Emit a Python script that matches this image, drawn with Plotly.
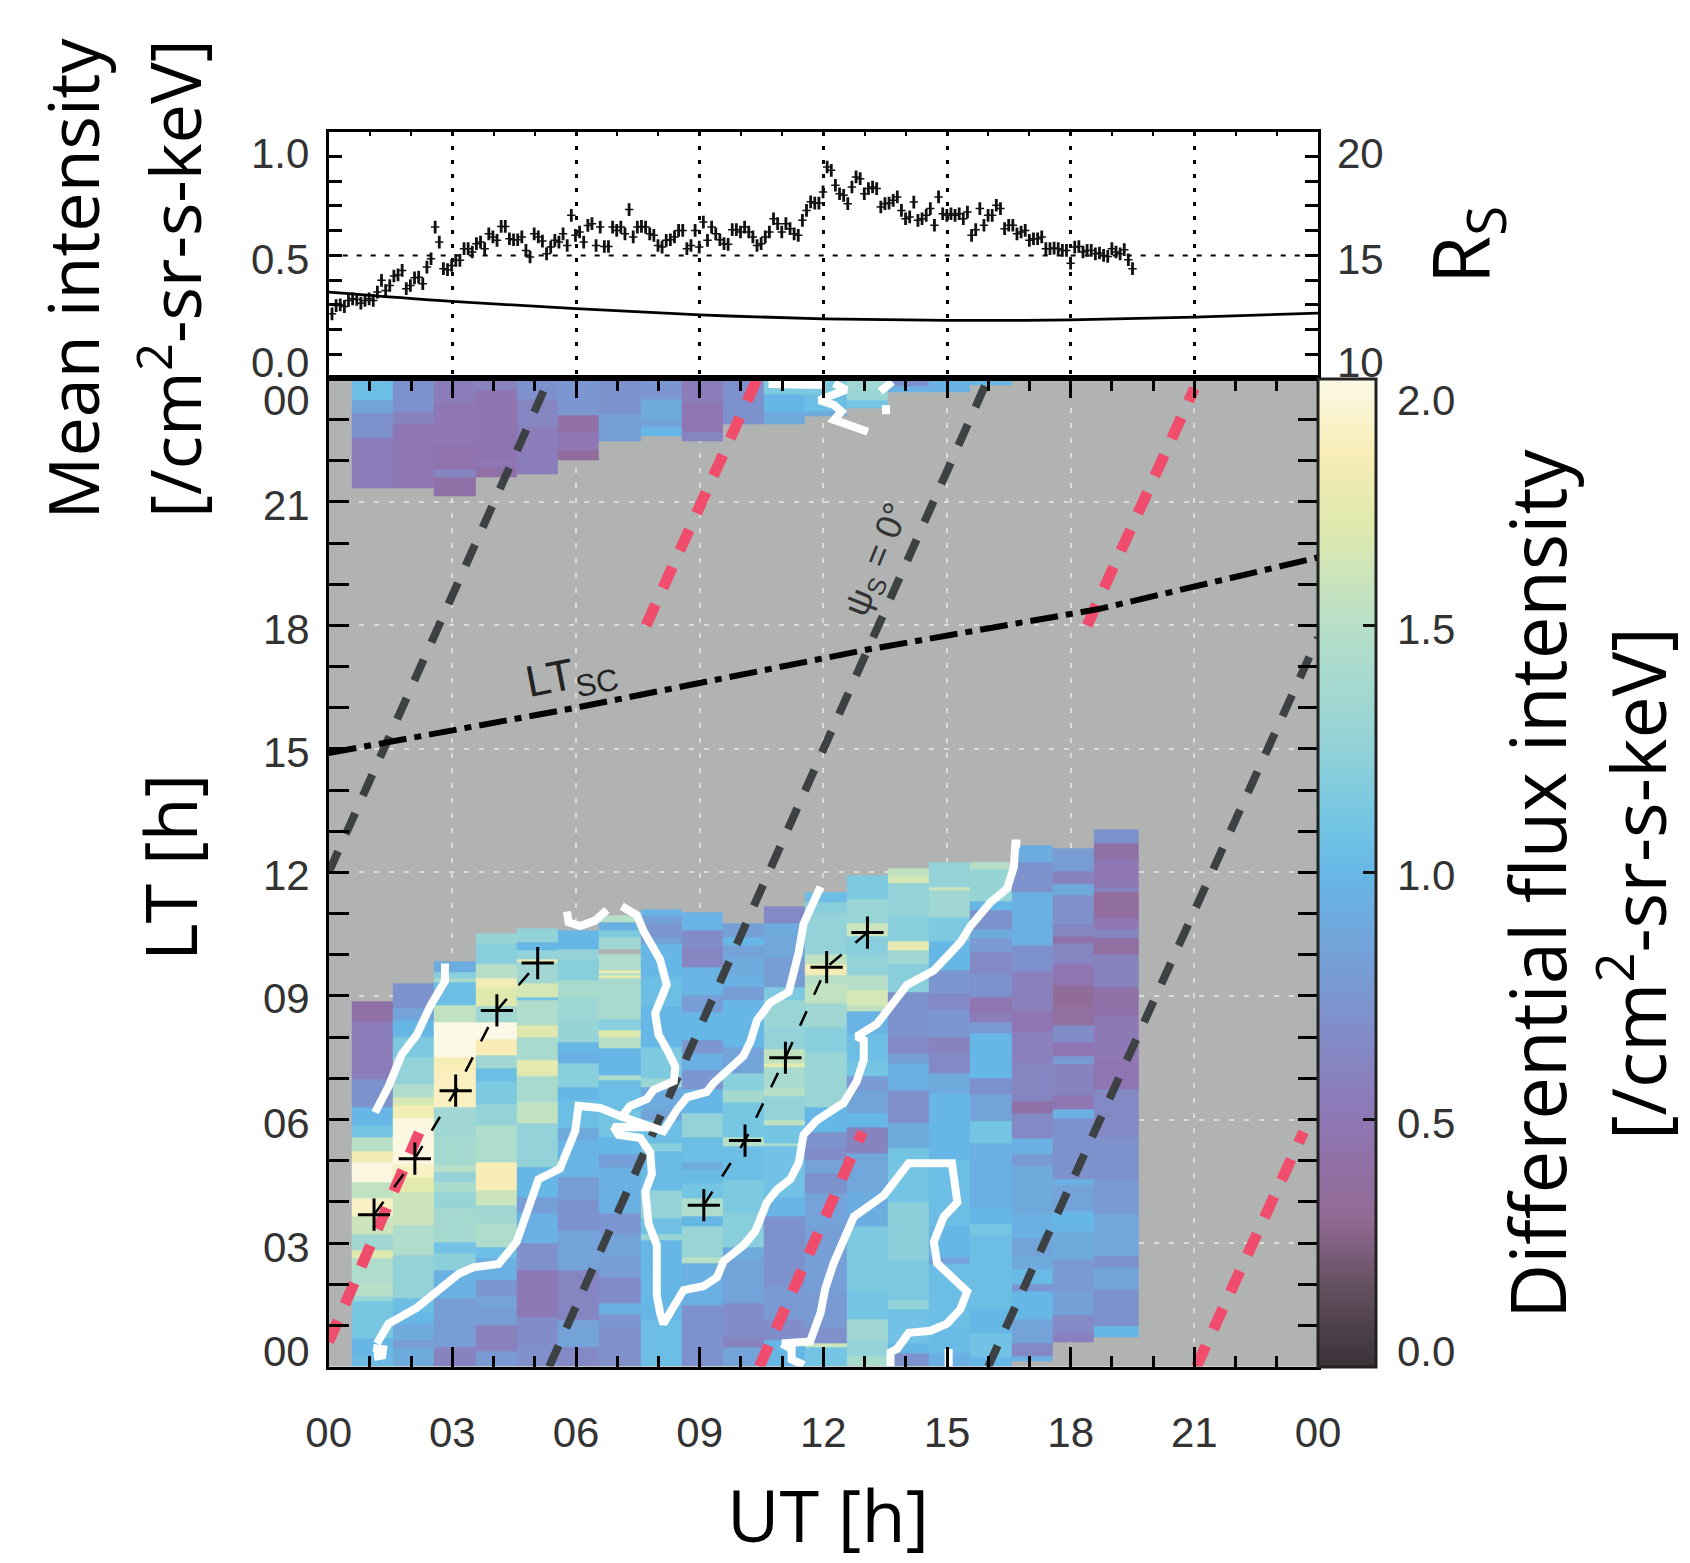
import numpy as np
import plotly.graph_objects as go

W, H = 1690, 1563
L, R, T, M, B = 328.7, 1318.0, 131.5, 378.3, 1366.6

# ---- top panel data ----
intensity = [
 .205,.247,.25,.242,.273,.281,.278,.259,.273,.281,.273,.315,.374,.323,.348,.396,.402,.424,.332,.348,
 .387,.39,.357,.441,.483,.643,.567,.433,.428,.449,.475,.475,.534,.534,.517,.559,.567,.534,.609,.593,
 .576,.646,.646,.584,.579,.579,.593,.525,.492,.609,.593,.572,.508,.542,.576,.567,.609,.55,.702,.601,
 .618,.567,.651,.66,.55,.643,.545,.545,.643,.626,.643,.609,.731,.593,.643,.646,.643,.609,.601,.55,
 .542,.576,.579,.593,.626,.626,.534,.55,.626,.542,.668,.576,.643,.609,.579,.559,.556,.63,.63,.618,
 .643,.618,.593,.55,.559,.593,.618,.685,.66,.618,.66,.635,.609,.601,.677,.727,.77,.764,.764,.82,
 .946,.929,.854,.811,.803,.761,.845,.896,.887,.811,.837,.845,.837,.744,.761,.764,.778,.795,.727,.685,
 .694,.769,.677,.685,.702,.736,.652,.795,.71,.702,.71,.702,.71,.685,.719,.601,.63,.736,.652,.702,
 .702,.753,.736,.635,.652,.652,.609,.618,.626,.576,.584,.584,.593,.534,.534,.537,.534,.525,.525,.461,
 .542,.545,.517,.525,.525,.508,.512,.5,.495,.534,.517,.508,.529,.478,.433]
intensity_first_ut, intensity_last_ut = 0.08, 19.5
intensity_err = 0.032
rs_ut = [0, 3, 6, 9, 12, 15, 18, 21, 24]
rs_val = [13.15, 12.68, 12.31, 12.0, 11.8, 11.72, 11.75, 11.89, 12.09]

# ---- heat map: column edges in UT, then per-column LT edges / values ----
col_edges = [0.56,1.56,2.56,3.56,4.56,5.56,6.56,7.56,8.56,9.56,10.56,11.56,12.56,13.56,14.56,15.56,16.56,17.56,18.56,19.66]

c01_lt=[8.86,8.37,6.99,6.31,5.86,5.58,5.22,4.97,4.49,4.08,3.64,3.23,2.83,2.63,2.02,1.70,1.58,.69,.24,0]
c01_v=[.42,.55,.72,1.0,1.1,1.5,1.8,1.98,1.55,1.9,1.6,1.35,1.7,1.45,1.5,1.3,1.12,1.0,1.03]
c02_lt=[9.30,8.70,8.41,8.01,7.52,6.87,6.55,6.35,6.02,4.93,4.61,4.25,3.44,2.71,1.66,1.33,1.05,.65,.48,0]
c02_v=[.72,.85,1.0,1.15,1.25,1.45,1.65,1.8,1.98,1.9,1.72,1.6,1.45,1.25,1.05,1.0,.9,.8,.9]
c03_lt=[9.84,9.58,9.42,9.34,8.78,8.37,7.52,7.20,6.31,5.58,4.89,4.73,4.49,4.25,3.84,3.03,2.75,2.34,1.66,.48,0]
c03_v=[.92,1.2,1.4,1.05,1.55,2.0,1.85,1.88,1.35,1.38,1.5,1.25,1.42,1.28,1.38,1.08,1.22,.95,.8,.6]
c04_lt=[10.52,10.27,9.79,9.42,9.22,8.74,8.37,7.97,7.56,7.24,6.92,6.39,5.86,4.97,4.29,3.92,3.48,2.91,2.63,2.10,1.70,1.45,1.01,.36,0]
c04_v=[1.28,1.2,1.5,1.82,1.7,1.35,2.0,1.85,1.35,1.05,1.15,1.25,1.45,1.85,1.6,1.35,1.45,1.05,.95,.75,.85,.8,.58,.78]
c05_lt=[10.64,10.31,10.11,9.91,9.83,9.30,8.98,8.90,8.29,8.01,7.44,7.16,7.04,6.43,5.90,4.85,4.12,3.72,3.0,2.34,1.21,.48,0]
c05_v=[1.25,1.0,1.25,1.75,1.35,1.65,1.1,1.45,1.7,1.4,1.75,1.7,1.4,1.55,1.25,1.0,.82,.95,.7,.52,.68,.7]
c06_lt=[10.60,10.15,9.91,9.38,8.98,8.41,7.89,7.60,7.36,6.79,6.47,5.78,5.50,4.61,4.04,3.31,2.34,1.13,.48,0]
c06_v=[1.0,1.25,1.2,1.4,1.33,1.28,1.0,.95,1.2,1.0,1.05,.9,.98,.8,.72,.85,.62,.85,.65]
c07_lt=[10.96,10.80,10.60,10.43,10.15,10.03,9.63,9.55,9.50,9.42,8.45,8.17,8.01,7.72,7.08,6.96,6.19,5.58,5.17,4.85,3.72,3.23,2.67,2.18,1.54,1.29,.97,0]
c07_v=[1.5,.95,1.15,1.35,None,1.45,1.75,1.42,1.75,1.4,1.2,1.7,1.5,1.0,1.45,1.05,1.1,1.0,.82,.95,.75,.85,.8,.68,.95,.75,.7]
c08_lt=[11.10,10.96,10.76,10.43,10.27,9.46,8.74,8.33,7.76,7.00,6.79,6.23,5.98,5.42,5.22,4.29,3.6,3.23,3.07,1.13,0]
c08_v=[.98,.85,.75,.85,1.0,1.05,1.0,1.0,1.15,1.3,.9,.85,1.05,1.2,1.02,1.25,1.08,1.3,1.0,1.05]
c09_lt=[11.04,10.60,10.19,9.71,9.02,8.61,7.93,7.60,7.20,6.75,6.15,5.58,4.97,4.81,4.45,4.08,3.64,3.40,2.67,2.50,1.49,0]
c09_v=[.98,.68,.62,.98,.8,1.0,.75,.95,.75,1.0,1.25,1.05,.9,1.02,1.1,1.45,1.0,1.3,1.5,.95,.72]
c10_lt=[10.77,10.43,10.23,9.95,9.50,9.22,8.90,7.76,7.12,6.71,6.43,5.58,5.34,4.53,3.72,2.91,2.59,1.54,.73,.48,0]
c10_v=[.82,1.0,.85,.9,.95,.8,1.0,.85,1.2,1.38,1.12,1.5,1.05,1.15,1.2,.9,.85,.68,.6,.85]
c11_lt=[11.18,10.76,10.44,9.95,9.23,8.90,8.25,7.69,7.36,7.28,6.76,6.56,5.99,5.87,5.42,5.34,4.13,3.64,3.32,1.94,1.14,.65,0]
c11_v=[.65,.9,.88,.8,1.15,1.3,1.25,1.55,1.72,1.4,1.5,1.25,1.55,1.1,1.4,1.08,.98,.72,.72,.78,.68,1.0]
c12_lt=[11.53,11.29,11.01,10.52,10.03,9.79,9.51,9.31,8.82,8.25,7.65,7.16,6.31,5.71,5.30,5.02,4.69,4.21,3.40,1.78,.97,.57,.49,0]
c12_v=[1.05,1.2,1.25,1.25,1.55,1.82,1.5,1.55,1.35,1.2,1.3,1.3,1.0,.72,.68,.85,.72,.85,.82,.78,.7,1.6,1.1]
c13_lt=[11.92,11.37,10.76,10.44,10.03,9.51,9.14,8.78,8.62,8.09,7.45,7.04,6.72,6.15,5.83,5.18,4.29,3.40,1.86,1.14,.65,.25,0]
c13_v=[1.15,1.3,1.6,1.2,1.25,1.5,1.65,1.55,.98,1.05,1.1,.78,.85,1.0,.6,.88,.92,1.15,1.1,1.35,1.25,1.4]
c14_lt=[12.10,11.90,11.75,10.92,10.32,10.12,9.79,9.10,8.01,7.61,7.36,6.72,5.91,5.30,3.97,2.59,1.62,1.38,.57,.33,0]
c14_v=[1.55,1.65,1.25,1.2,1.75,1.35,1.2,.72,.65,.82,.95,.7,.9,1.1,1.22,1.15,1.25,1.08,1.0,.72]
c15_lt=[12.24,11.65,11.57,10.92,10.32,9.63,9.06,8.66,8.01,7.61,7.12,6.64,5.02,3.40,2.67,2.47,.97,.33,0]
c15_v=[1.25,1.6,1.35,1.15,1.0,.75,.65,.75,.6,.65,.9,1.0,1.05,1.0,.85,1.05,1.02,.95]
c16_lt=[12.25,12.08,11.31,11.09,10.63,10.41,10.07,9.52,8.96,8.58,8.36,8.11,7.0,6.62,5.97,5.42,3.88,3.46,3.20,1.41,.81,.22,0]
c16_v=[1.5,1.28,1.0,.72,.9,.78,.65,.72,.48,.55,.78,1.0,.72,.85,1.1,.95,1.0,1.12,1.05,1.0,1.08,1.0]
c17_lt=[12.66,12.25,11.52,10.24,9.60,8.62,8.15,7.38,6.44,6.15,5.55,5.16,4.87,3.71,3.12,2.69,2.35,2.01,1.84,1.15,.56,.26,.13]
c17_v=[.92,.72,.95,.72,.58,.48,.58,.62,.42,.65,.95,.78,.9,.95,.85,.9,1.02,.75,1.0,.85,.65,.95]
c18_lt=[12.59,12.03,11.73,11.44,10.75,10.45,10.28,9.77,9.26,8.75,8.28,7.89,7.55,7.34,6.61,6.27,6.02,5.55,4.57,4.40,3.76,3.29,2.60,1.84,1.24,.81,.60]
c18_v=[.8,.6,.9,.7,.62,.42,.62,.48,.33,.38,.68,.48,.78,.6,.48,.95,.72,.72,.95,.85,1.0,.9,.78,.82,.65,.58]
c19_lt=[13.06,12.72,12.33,11.65,11.52,10.88,10.63,10.41,10.03,9.22,8.53,7.47,6.74,5.59,4.57,3.71,2.69,2.39,1.88,.98,.73]
c19_v=[.72,.42,.5,.6,.36,.5,.62,.38,.6,.42,.52,.48,.65,.72,.78,.88,.72,.85,.72,1.0]

u01_lt=[24,23.47,23.15,22.54,21.35]; u01_v=[1.05,.85,.72,.55]
u02_lt=[24,23.2,22.87,21.35]; u02_v=[.72,.6,.5]
u03_lt=[24,23.43,22.34,21.81,21.61,21.14]; u03_v=[.55,.5,.45,.62,.42]
u04_lt=[24,23.7,22.0,21.85,21.61]; u04_v=[.6,.47,.5,.42]
u05_lt=[24,23.5,22.8,21.68]; u05_v=[.72,.62,.55]
u06_lt=[24,23.1,22.7,22.25,22.02]; u06_v=[.75,.4,.5,.35]
u07_lt=[24,23.15,22.48]; u07_v=[.72,.82]
u08_lt=[24,23.5,23.0,22.8,22.61]; u08_v=[.75,.9,.85,1.0]
u09_lt=[24,23.4,22.7,22.48]; u09_v=[.55,.48,.62]
u10_lt=[24,22.88]; u10_v=[.72]
u11_lt=[24,23.6,23.2,22.88]; u11_v=[1.15,1.0,.9]
u12_lt=[24,23.6,23.2,23.09]; u12_v=[1.15,1.05,.9]
u13_lt=[24,23.7,23.47,23.29]; u13_v=[1.35,1.3,1.1]
u14_lt=[24,23.8,23.67]; u14_v=[.72,.95]
u15_lt=[24,23.67]; u15_v=[.95]
u16_lt=[24,23.82]; u16_v=[1.0]

# ---- overlays ----
gray_lines = [((0,12),(5.35,24)), ((5.35,0),(16.0,24)), ((16.0,0),(24,17.7))]
red_lines = [((0,0.6),(2.2,5.7)), ((7.7,18),(10.4,24)), ((10.45,0),(12.95,5.7)), ((18.4,18),(21.0,23.75)), ((21.05,0),(23.65,5.7))]
ltsc_ut = [0, 6, 13, 18.7, 24]
ltsc_lt = [14.9, 16.0, 17.4, 18.4, 19.65]
track1_ut = [1.1, 2.09, 3.08, 4.08, 5.07]
track1_lt = [3.69, 5.05, 6.7, 8.65, 9.8]
track2_ut = [9.1, 10.1, 11.08, 12.08, 13.07]
track2_lt = [3.92, 5.49, 7.5, 9.7, 10.54]

contours = [
 [(1.125,6.17),(1.45,6.8),(1.77,7.58),(2.14,8.06),(2.46,8.75),(2.82,9.36),(2.82,9.79)],
 [(1.08,.45),(1.32,.42),(1.3,.27),(1.1,.24)],
 [(1.17,.56),(1.45,1.04),(2.14,1.43),(2.66,1.86),(3.15,2.25),(3.51,2.41),(4.12,2.49),(4.56,3.03),(4.85,3.81),(5.09,4.55),(5.61,4.81),(5.98,5.72),(6.06,6.33),(6.59,6.28),(7.11,6.07),(7.88,5.81),(8.12,5.72),(8.45,6.24),(8.69,6.54),(9.17,6.67),(9.34,6.89),(10.06,7.54),(10.23,7.89),(10.39,8.41),(10.71,8.84),(11.16,9.10),(11.40,10.05),(11.52,10.75),(11.93,11.65)],
 [(7.11,6.07),(7.31,6.33),(7.72,6.5),(7.88,6.72),(8.37,6.93),(8.41,7.28),(8.2,7.71),(8.0,8.06),(7.92,8.58),(8.2,9.27),(8.04,9.88),(7.64,10.57),(7.48,10.96),(7.11,11.18)],
 [(7.88,5.81),(6.91,5.82),(7.03,5.63),(7.56,5.55),(7.8,5.2),(7.84,4.68),(7.68,4.25),(7.76,3.47),(7.96,2.95),(7.96,1.73),(8.04,1.3),(8.12,1.04),(8.61,1.86),(9.09,1.95),(9.42,2.17),(9.58,2.56),(10.07,2.95),(10.35,3.29),(10.63,3.99),(10.87,4.29),(11.2,4.55),(11.4,4.94),(11.52,5.63),(11.84,5.98),(12.5,6.41),(12.81,6.93),(12.98,7.45),(12.98,7.93),(12.81,8.02),(13.3,8.32),(13.7,8.84),(14.03,9.27),(14.68,9.62),(15.33,10.31),(15.57,10.7),(16.05,11.27),(16.46,11.61),(16.62,12.13),(16.66,12.7),(16.78,12.7)],
 [(10.99,.56),(11.68,.61),(11.93,1.3),(12.05,1.91),(12.25,2.51),(12.74,3.64),(13.47,4.16),(14.07,4.94),(15.12,4.94),(15.25,3.99),(14.92,3.64),(14.68,3.03),(14.76,2.51),(15.49,1.82),(15.32,1.39),(15.0,1.04),(14.6,.87),(14.07,.82),(13.79,.43),(13.63,.35),(13.63,0)],
 [(10.99,.56),(11.23,.43),(11.23,.17),(11.53,.04)],
 [(15.04,.43),(15.04,.0)],
 [(5.78,11.05),(5.82,10.79),(6.1,10.7),(6.46,10.83),(6.75,11.09)],
 [(10.67,23.86),(12.0,23.84)],
 [(12.26,23.88),(12.55,23.72),(11.9,23.47),(12.26,23.35),(12.44,23.19),(12.26,22.99),(13.08,22.7)],
 [(13.38,23.68),(13.67,23.92)],
 [(13.52,23.35),(13.52,23.13)],
]

x_tick_vals = [0,3,6,9,12,15,18,21,24]
x_tick_text = ["00","03","06","09","12","15","18","21","00"]
lt_tick_vals = [0,3,6,9,12,15,18,21,24]
lt_tick_text = ["00","03","06","09","12","15","18","21","00"]
lt_tick_shift = [15,-4,-4,-3,-3,-4,-4,-4,-22]      # label offset from its tick, px upward
flux_ticks = [0.0,0.5,1.0,1.5,2.0]
flux_shift = [15,-4,-3,-4,-22]
left_ticks = [0.0,0.5,1.0]; left_shift=[-8,-5,2]
right_ticks = [10,15,20]; right_shift=[-8,-5,2]

scale = [[0,"#3a3238"],[.08,"#63505f"],[.15,"#926a94"],[.25,"#8f76b4"],[.375,"#7b96d0"],[.5,"#67b7e6"],
         [.55,"#73c5e3"],[.625,"#92d2d8"],[.75,"#b7dfc8"],[.85,"#dfe9ad"],[.925,"#f8edb6"],[1,"#fcf9e6"]]

# ---- build grid ----
lower = [(c01_lt,c01_v),(c02_lt,c02_v),(c03_lt,c03_v),(c04_lt,c04_v),(c05_lt,c05_v),(c06_lt,c06_v),(c07_lt,c07_v),(c08_lt,c08_v),(c09_lt,c09_v),(c10_lt,c10_v),
         (c11_lt,c11_v),(c12_lt,c12_v),(c13_lt,c13_v),(c14_lt,c14_v),(c15_lt,c15_v),(c16_lt,c16_v),(c17_lt,c17_v),(c18_lt,c18_v),(c19_lt,c19_v)]
upper = [(u01_lt,u01_v),(u02_lt,u02_v),(u03_lt,u03_v),(u04_lt,u04_v),(u05_lt,u05_v),(u06_lt,u06_v),(u07_lt,u07_v),(u08_lt,u08_v),(u09_lt,u09_v),(u10_lt,u10_v),
         (u11_lt,u11_v),(u12_lt,u12_v),(u13_lt,u13_v),(u14_lt,u14_v),(u15_lt,u15_v),(u16_lt,u16_v)]
y_edges = np.arange(0, 24.0001, 0.02)
y_mid = (y_edges[:-1]+y_edges[1:])/2
Z = np.full((len(y_mid), len(col_edges)-1), np.nan)
for group in (lower, upper):
    for j,(edges,vals) in enumerate(group):
        for k,v in enumerate(vals):
            if v is None: continue
            Z[(y_mid<edges[k])&(y_mid>=edges[k+1]), j] = v

fig = go.Figure()
def py(p): return 1-p/H
def px(p): return p/W

fig.add_trace(go.Heatmap(x=col_edges, y=y_edges, z=Z, xaxis="x", yaxis="y", zmin=0, zmax=2, colorscale=scale,
    hoverongaps=False, showscale=True,
    colorbar=dict(x=px(R), xanchor="left", xpad=0, ypad=0, y=py(B), yanchor="bottom", lenmode="fraction", len=(B-M)/H,
                  thicknessmode="pixels", thickness=58, outlinecolor="#222", outlinewidth=3,
                  tickvals=flux_ticks, ticks="inside", ticklen=14, tickwidth=3, tickcolor="#111", showticklabels=False)))

for seg in gray_lines:
    fig.add_trace(go.Scatter(x=[seg[0][0],seg[1][0]], y=[seg[0][1],seg[1][1]], mode="lines", xaxis="x", yaxis="y",
                             line=dict(color="#3e4143", width=8, dash="23px,19px"), showlegend=False))
for seg in red_lines:
    fig.add_trace(go.Scatter(x=[seg[0][0],seg[1][0]], y=[seg[0][1],seg[1][1]], mode="lines", xaxis="x", yaxis="y",
                             line=dict(color="#f04d6c", width=11, dash="23px,18px"), showlegend=False))
fig.add_trace(go.Scatter(x=ltsc_ut, y=ltsc_lt, mode="lines", xaxis="x", yaxis="y",
                         line=dict(color="#000", width=6, dash="28px,8px,7px,8px"), showlegend=False))
for c in contours:
    fig.add_trace(go.Scatter(x=[p[0] for p in c], y=[p[1] for p in c], mode="lines", xaxis="x", yaxis="y",
                             line=dict(color="#fff", width=8), showlegend=False))
for tu, tl in ((track1_ut,track1_lt),(track2_ut,track2_lt)):
    fig.add_trace(go.Scatter(x=tu, y=tl, mode="lines+markers", xaxis="x", yaxis="y",
                             line=dict(color="#000", width=2.5, dash="16px,18px"),
                             marker=dict(symbol="cross-thin", size=23, line=dict(color="#000", width=3)), showlegend=False))
# empty trace that brings the top tick axis of the heat map into the figure
fig.add_trace(go.Scatter(x=[None], y=[None], mode="lines", xaxis="x3", yaxis="y", showlegend=False))

# top panel
intensity_ut = np.linspace(intensity_first_ut, intensity_last_ut, len(intensity))
fig.add_trace(go.Scatter(x=[0,24], y=[.5,.5], mode="lines", xaxis="x2", yaxis="y2",
                         line=dict(color="#000", width=2, dash="5px,9px"), showlegend=False))
fig.add_trace(go.Scatter(x=intensity_ut, y=intensity, mode="markers", xaxis="x2", yaxis="y2",
                         marker=dict(symbol="line-ew", size=6, line=dict(color="#111", width=1.5)),
                         error_y=dict(type="constant", value=intensity_err, thickness=2.8, width=0, color="#111"), showlegend=False))
fig.add_trace(go.Scatter(x=rs_ut, y=rs_val, mode="lines", xaxis="x2", yaxis="y3",
                         line=dict(color="#000", width=2.8, shape="spline"), showlegend=False))

axis_common = dict(showline=True, linecolor="#000", zeroline=False, tickcolor="#000", automargin=False)
fig.update_layout(
    width=W, height=H, autosize=False, margin=dict(l=0,r=0,t=0,b=0), paper_bgcolor="#fff", plot_bgcolor="#b1b3b3",
    font=dict(family="Liberation Sans", color="#333"), showlegend=False,
    xaxis=dict(domain=[px(L),px(R)], range=[0,24], anchor="y", linewidth=3, mirror=True, ticks="inside", ticklen=20, tickwidth=3,
               tickvals=x_tick_vals, ticktext=x_tick_text, tickfont=dict(size=42, color="#333"), ticklabelstandoff=27,
               showgrid=True, gridcolor="#dadada", gridwidth=2, griddash="5px,10px",
               minor=dict(dtick=1, tick0=0, ticks="inside", ticklen=11, tickwidth=3, tickcolor="#000", showgrid=False), **axis_common),
    xaxis3=dict(overlaying="x", side="top", anchor="y", range=[0,24], linewidth=3, ticks="inside", ticklen=20, tickwidth=3,
                tickvals=x_tick_vals, showticklabels=False, showgrid=False,
                minor=dict(dtick=1, tick0=0, ticks="inside", ticklen=13, tickwidth=3, tickcolor="#000", showgrid=False), **axis_common),
    yaxis=dict(domain=[py(B),py(M)], range=[0,24], anchor="x", linewidth=3, mirror="allticks", ticks="inside", ticklen=20, tickwidth=3,
               tickvals=lt_tick_vals, showticklabels=False,
               showgrid=True, gridcolor="#dadada", gridwidth=2, griddash="5px,10px",
               minor=dict(dtick=1, tick0=0, ticks="inside", ticklen=13, tickwidth=3, tickcolor="#000", showgrid=False), **axis_common),
    xaxis2=dict(domain=[px(L),px(R)], range=[0,24], anchor="y2", side="top", linewidth=3, mirror=True, ticks="inside", ticklen=4, tickwidth=2,
                dtick=3, tick0=0, showticklabels=False, showgrid=True, gridcolor="#000", gridwidth=3, griddash="4px,10px",
                minor=dict(dtick=1, tick0=0, ticks="inside", ticklen=4, tickwidth=2, tickcolor="#000", showgrid=False), **axis_common),
    yaxis2=dict(domain=[py(M),py(T)], range=[-.12,1.125], anchor="x2", linewidth=3, ticks="inside", ticklen=13, tickwidth=2.5,
                tickvals=left_ticks, showticklabels=False, showgrid=False,
                minor=dict(dtick=.125, tick0=0, ticks="inside", ticklen=13, tickwidth=2.5, tickcolor="#000", showgrid=False), **axis_common),
    yaxis3=dict(range=[8.8,21.25], overlaying="y2", side="right", anchor="x2", linewidth=3, ticks="inside", ticklen=13, tickwidth=2.5,
                tickvals=right_ticks, showticklabels=False, showgrid=False,
                minor=dict(dtick=1.25, tick0=10, ticks="inside", ticklen=13, tickwidth=2.5, tickcolor="#000", showgrid=False), **axis_common),
)
# white background for the top panel
fig.add_shape(type="rect", xref="paper", yref="paper", x0=px(L), x1=px(R), y0=py(M), y1=py(T), fillcolor="#fff", line_width=0, layer="below")

def lab(text, x, y, size, color="#000", angle=0, family="Open Sans"):
    fig.add_annotation(text=text, xref="paper", yref="paper", x=px(x), y=py(y), showarrow=False, textangle=angle,
                       xanchor="center", yanchor="middle", font=dict(size=size, color=color, family=family))

TF = "Liberation Sans"
for v,t,s in zip(lt_tick_vals, lt_tick_text, lt_tick_shift):
    lab(t, 286, B-(v/24)*(B-M)-s, 42, "#333", family=TF)
for v,s in zip(flux_ticks, flux_shift):
    lab(f"{v:.1f}", 1426, B-(v/2)*(B-M)-s, 42, "#333", family=TF)
for v,s in zip(left_ticks, left_shift):
    lab(f"{v:.1f}", 280, 354-v*198-s, 42, "#333", family=TF)
for v,s in zip(right_ticks, right_shift):
    lab(f"{v}", 1360, 354-(v-10)/10*198-s, 42, "#333", family=TF)

lab("Mean intensity", 71.5, 279, 70, angle=-90)
lab("[/cm<sup>2</sup>-sr-s-keV]", 171, 279, 70, angle=-90)
lab("LT [h]", 169, 868, 72, angle=-90)
lab("R<sub>S</sub>", 1464, 245, 78, angle=-90)
lab("Differential flux intensity", 1536, 884, 76, angle=-90)
lab("[/cm<sup>2</sup>-sr-s-keV]", 1633, 884, 75, angle=-90)
lab("UT [h]", 828, 1514, 72)
lab("LT<sub>SC</sub>", 571, 677, 44, "#222", angle=-11, family=TF)
lab("ψ<sub>S</sub> = 0°", 878, 560, 36, "#333", angle=-68, family=TF)

fig.write_html("out.html", post_script="document.body.style.margin='0';", config={"displayModeBar": False})
